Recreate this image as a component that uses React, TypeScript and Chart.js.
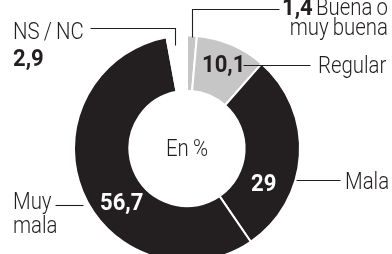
import React, { useEffect, useRef } from "react";
import { Chart, registerables } from "chart.js";

Chart.register(...registerables);

// ---- data ----
const categories = ["Buena o muy buena", "Regular", "Mala", "Muy mala", "NS / NC"];
const values = [1.4, 10.1, 29, 56.7, 2.9];
const valueLabels = ["1,4", "10,1", "29", "56,7", "2,9"];
const segmentColors = ["#c6c6c6", "#c6c6c6", "#231f20", "#231f20", "#ffffff"];
const centerLabel = "En %";

// ---- annotation layout (relative to doughnut centre) ----
type TextItem = { t: string; dx: number; dy: number; bold?: boolean; color?: string; align?: CanvasTextAlign };
const textLayout: TextItem[] = [
  { t: "NS / NC", dx: -174, dy: -109.5 },
  { t: valueLabels[4], dx: -174, dy: -82.5, bold: true },
  { t: valueLabels[0], dx: 95, dy: -133.5, bold: true },
  { t: "Buena o", dx: 201, dy: -133.5, align: "right" },
  { t: "muy buena", dx: 201, dy: -114, align: "right" },
  { t: valueLabels[1], dx: 15, dy: -76.5, bold: true },
  { t: "Regular", dx: 131, dy: -75.5 },
  { t: valueLabels[2], dx: 64, dy: 42.5, bold: true, color: "#ffffff" },
  { t: "Mala", dx: 158, dy: 40.5 },
  { t: valueLabels[3], dx: -87, dy: 61.5, bold: true, color: "#ffffff" },
  { t: "Muy", dx: -174, dy: 60.5 },
  { t: "mala", dx: -174, dy: 84.5 },
  { t: centerLabel, dx: 0, dy: 7.5, align: "center" },
];
const leaderLines: number[][][] = [
  [[-97, -120.5], [-12, -120.5], [-12, -103.5]],
  [[5, -111.5], [5, -139.5], [92, -139.5]],
  [[56, -83.5], [123, -83.5]],
  [[109, 31.5], [153, 31.5]],
  [[-132, 56.5], [-104, 56.5]],
];

const INK = "#231f20";

const calloutPlugin = {
  id: "callouts",
  afterDraw(chart: any) {
    const arc = chart.getDatasetMeta(0).data[0];
    if (!arc) return;
    const cx = Math.round(arc.x);
    const cy = arc.y;
    const ctx = chart.ctx as CanvasRenderingContext2D;
    ctx.save();
    ctx.strokeStyle = INK;
    ctx.lineWidth = 1.1;
    for (const line of leaderLines) {
      ctx.beginPath();
      line.forEach(([dx, dy], i) => {
        const x = Math.round(cx + dx) + 0.5;
        const y = Math.round(cy + dy) + 0.5;
        if (i === 0) ctx.moveTo(x, y);
        else ctx.lineTo(x, y);
      });
      ctx.stroke();
    }
    ctx.textBaseline = "alphabetic";
    for (const it of textLayout) {
      ctx.save();
      ctx.translate(cx + it.dx, cy + it.dy);
      ctx.fillStyle = it.color || INK;
      ctx.textAlign = it.align || "left";
      if (it.bold) {
        ctx.font = "700 24px Roboto";
        ctx.scale(0.92, 1);
      } else {
        ctx.font = "300 24px Roboto";
        (ctx as any).wordSpacing = "-1px";
        ctx.scale(0.85, 1);
      }
      ctx.fillText(it.t, 0, 0);
      ctx.restore();
    }
    ctx.restore();
  },
};

export default function App() {
  const ref = useRef<HTMLCanvasElement | null>(null);
  useEffect(() => {
    if (!ref.current) return;
    const chart = new Chart(ref.current, {
      type: "doughnut",
      data: {
        labels: categories,
        datasets: [
          {
            data: values,
            backgroundColor: segmentColors,
            borderColor: "#ffffff",
            borderWidth: 2,
            hoverOffset: 0,
          },
        ],
      },
      options: {
        animation: false,
        responsive: true,
        maintainAspectRatio: false,
        radius: 113,
        cutout: "51%",
        rotation: 0,
        layout: { padding: { left: 75, right: 93, top: 43, bottom: 0 } },
        plugins: {
          legend: { display: false },
          tooltip: { enabled: false },
        },
      },
      plugins: [calloutPlugin],
    });
    return () => chart.destroy();
  }, []);
  return (
    <div style={{ position: "absolute", left: 0, top: 0, width: 392, height: 254, background: "#ffffff" }}>
      <canvas ref={ref} />
    </div>
  );
}
